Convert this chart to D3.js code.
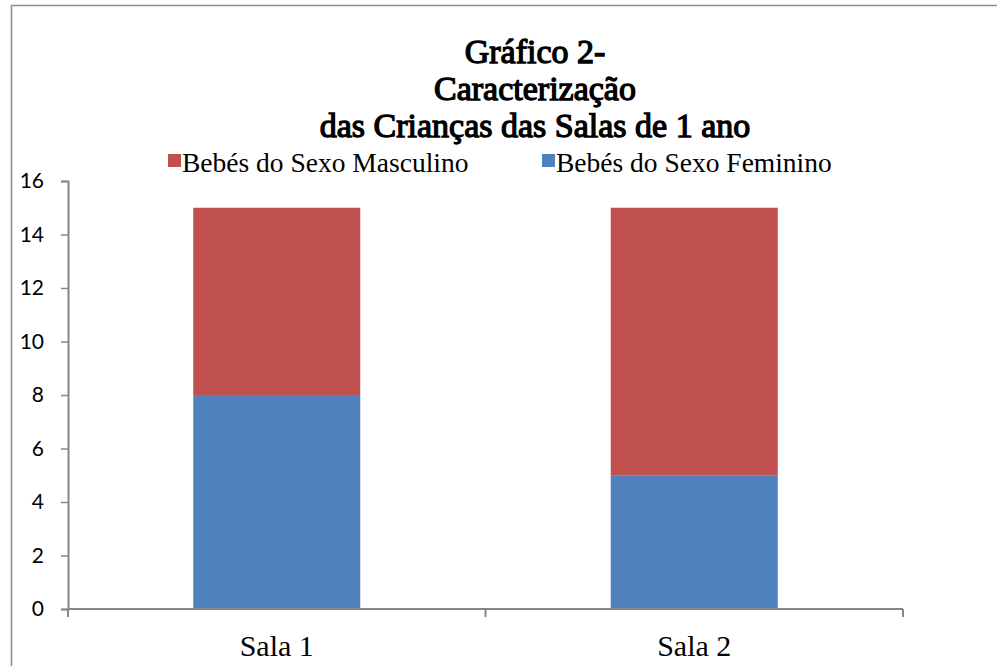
<!DOCTYPE html>
<html>
<head>
<meta charset="utf-8">
<script src="https://cdn.jsdelivr.net/npm/d3@7"></script>
<style>
  body { margin: 0; background: #fff; }
  svg { display: block; }
</style>
</head>
<body>
<div id="chart"></div>
<script>
// data
const categories = ["Sala 1", "Sala 2"];
const seriesNames = ["Bebés do Sexo Feminino", "Bebés do Sexo Masculino"];
const feminino = [8, 5];
const masculino = [7, 10];
const yTicks = [0, 2, 4, 6, 8, 10, 12, 14, 16];
const titleLines = ["Gráfico 2-", "Caracterização", "das Crianças das Salas de 1 ano"];

const W = 997, H = 666;
const serif = "'Liberation Serif', 'Times New Roman', serif";
const colors = { "Bebés do Sexo Feminino": "#4F81BD", "Bebés do Sexo Masculino": "#C0504D" };

const svg = d3.select("#chart").append("svg")
  .attr("width", W)
  .attr("height", H);

// outer frame (only top and left are visible in the cropped reference)
svg.append("rect")
  .attr("x", 11.5).attr("y", 5.5)
  .attr("width", W + 20).attr("height", H + 20)
  .attr("fill", "none")
  .attr("stroke", "#8c8c8c")
  .attr("stroke-width", 1.5);

// title - no bold serif face installed, so thicken the regular one with a stroke
const titleY = [63, 100, 137];
svg.selectAll("text.title")
  .data(titleLines)
  .join("text")
  .attr("class", "title")
  .attr("x", 535)
  .attr("y", (d, i) => titleY[i])
  .attr("text-anchor", "middle")
  .attr("font-family", serif)
  .attr("font-size", 34)
  .attr("fill", "#000")
  .attr("stroke", "#000")
  .attr("stroke-width", 1.3)
  .text(d => d);

// scales
const x = d3.scaleBand()
  .domain(categories)
  .range([68, 903])
  .paddingInner(0.6)
  .paddingOuter(0.3);

const y = d3.scaleLinear()
  .domain([0, 16])
  .range([609, 181]);

// stacked data
const rows = categories.map((c, i) => ({
  cat: c,
  "Bebés do Sexo Feminino": feminino[i],
  "Bebés do Sexo Masculino": masculino[i]
}));
const stacked = d3.stack().keys(seriesNames)(rows);

svg.append("g")
  .selectAll("g")
  .data(stacked)
  .join("g")
  .attr("fill", d => colors[d.key])
  .selectAll("rect")
  .data(d => d)
  .join("rect")
  .attr("x", d => x(d.data.cat))
  .attr("width", x.bandwidth())
  .attr("y", d => y(d[1]))
  .attr("height", d => y(d[0]) - y(d[1]));

// y axis
const yAxis = svg.append("g")
  .attr("transform", "translate(68,0)")
  .call(d3.axisLeft(y).tickValues(yTicks).tickSize(7).tickPadding(17));
yAxis.select(".domain").attr("stroke", "#868686").attr("stroke-width", 2);
yAxis.selectAll(".tick line").attr("stroke", "#868686").attr("stroke-width", 1.5);
yAxis.selectAll(".tick text")
  .attr("fill", "#000")
  .style("font-family", "Lato, 'Open Sans', sans-serif")
  .style("font-size", "21px");

// x axis line with ticks on category boundaries
const xAxis = svg.append("g");
xAxis.append("line")
  .attr("x1", 68).attr("x2", 903)
  .attr("y1", y(0)).attr("y2", y(0))
  .attr("stroke", "#868686").attr("stroke-width", 2);
const step = x.step();
const boundaries = [x(categories[0]) - step * 0.3]
  .concat(categories.map(c => x(c) + x.bandwidth() + step * 0.3));
xAxis.selectAll("line.tick")
  .data(boundaries)
  .join("line")
  .attr("class", "tick")
  .attr("x1", d => d).attr("x2", d => d)
  .attr("y1", y(0)).attr("y2", y(0) + 8)
  .attr("stroke", "#868686").attr("stroke-width", 2);
xAxis.selectAll("text")
  .data(categories)
  .join("text")
  .attr("x", d => x(d) + x.bandwidth() / 2)
  .attr("y", 656)
  .attr("text-anchor", "middle")
  .attr("font-family", serif)
  .attr("font-size", 30)
  .text(d => d);

// legend
const legendItems = [
  { name: "Bebés do Sexo Masculino", x: 168 },
  { name: "Bebés do Sexo Feminino", x: 542 }
];
const legend = svg.append("g");
const li = legend.selectAll("g")
  .data(legendItems)
  .join("g")
  .attr("transform", d => `translate(${d.x},154)`);
li.append("rect")
  .attr("width", 13).attr("height", 13)
  .attr("fill", d => colors[d.name]);
li.append("text")
  .attr("x", 14)
  .attr("y", 18)
  .attr("font-family", serif)
  .attr("font-size", 27.5)
  .text(d => d.name);
</script>
</body>
</html>
